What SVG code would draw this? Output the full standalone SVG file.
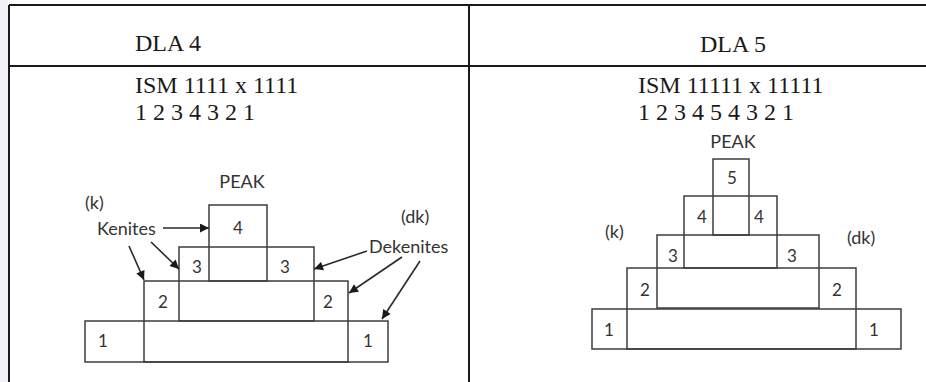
<svg xmlns="http://www.w3.org/2000/svg" width="926" height="382" viewBox="0 0 926 382">
<defs>
<style>
.grid{stroke:#1a1a1a;stroke-width:2;fill:none}
.box{fill:none;stroke:#3c3c3c;stroke-width:1.5}
.ser{font-family:"Liberation Serif","Times New Roman",serif;font-size:24px;fill:#1a1a1a}
.sans{font-family:Lato,"Liberation Sans",sans-serif;font-size:18px;fill:#333}
.num{font-family:Lato,"Liberation Sans",sans-serif;font-size:17px;fill:#333;text-anchor:middle}
.arr{stroke:#2a2a2a;stroke-width:1.6;fill:none;marker-end:url(#ah)}
</style>
<marker id="ah" viewBox="0 0 10 10" refX="10" refY="5" markerWidth="11" markerHeight="9" markerUnits="userSpaceOnUse" orient="auto">
<path d="M0,0 L10,5 L0,10 z" fill="#1a1a1a"/>
</marker>
</defs>
<rect x="0" y="0" width="926" height="382" fill="#ffffff"/>
<rect x="0" y="0" width="8" height="382" fill="#f1f2f5"/>
<g id="table">
<line class="grid" x1="9" y1="5" x2="926" y2="5"/>
<line class="grid" x1="9" y1="66" x2="926" y2="66"/>
<line class="grid" x1="9" y1="5" x2="9" y2="382"/>
<line class="grid" x1="469" y1="5" x2="469" y2="382"/>
<text class="ser" x="135" y="51">DLA 4</text>
<text class="ser" x="700" y="52">DLA 5</text>
<text class="ser" x="135" y="93">ISM 1111 x 1111</text>
<text class="ser" x="135" y="120">1 2 3 4 3 2 1</text>
<text class="ser" x="638" y="93">ISM 11111 x 11111</text>
<text class="ser" x="638" y="120">1 2 3 4 5 4 3 2 1</text>
</g>
<g id="dla4">
<g id="dla4-level1"><rect class="box" x="85" y="321" width="303" height="41"/><text class="num" x="103" y="347">1</text><text class="num" x="368" y="347">1</text></g>
<g id="dla4-level2"><rect class="box" x="144" y="281" width="204" height="81"/><text class="num" x="163" y="308">2</text><text class="num" x="328" y="308">2</text></g>
<g id="dla4-level3"><rect class="box" x="179" y="247" width="135" height="74"/><text class="num" x="197" y="273">3</text><text class="num" x="285" y="273">3</text></g>
<g id="dla4-level4"><rect class="box" x="209" y="205" width="58" height="76"/><text class="num" x="238" y="234">4</text></g>
<g id="dla4-labels">
<text class="sans" x="242" y="188" text-anchor="middle">PEAK</text>
<text class="sans" x="85" y="209">(k)</text>
<text class="sans" x="97" y="235">Kenites</text>
<text class="sans" x="401" y="223">(dk)</text>
<text class="sans" x="369" y="253">Dekenites</text>
</g>
</g>
<g id="dla5">
<g id="dla5-level1"><rect class="box" x="592" y="309" width="309" height="40"/><text class="num" x="609" y="336">1</text><text class="num" x="874" y="336">1</text></g>
<g id="dla5-level2"><rect class="box" x="627" y="268" width="229" height="81"/><text class="num" x="645" y="296">2</text><text class="num" x="837" y="296">2</text></g>
<g id="dla5-level3"><rect class="box" x="657" y="235" width="162" height="73"/><text class="num" x="673" y="262">3</text><text class="num" x="792" y="262">3</text></g>
<g id="dla5-level4"><rect class="box" x="684" y="196" width="93" height="72"/><text class="num" x="702" y="223">4</text><text class="num" x="759" y="223">4</text></g>
<g id="dla5-level5"><rect class="box" x="713" y="159" width="36" height="76"/><text class="num" x="732" y="184">5</text></g>
<g id="dla5-labels">
<text class="sans" x="733" y="148" text-anchor="middle">PEAK</text>
<text class="sans" x="605" y="238">(k)</text>
<text class="sans" x="847" y="244">(dk)</text>
</g>
</g>
<g id="connectors">
<line class="arr" x1="163" y1="228" x2="209" y2="228"/>
<line class="arr" x1="151" y1="242" x2="179" y2="269"/>
<line class="arr" x1="129" y1="246" x2="144" y2="280"/>
<line class="arr" x1="367" y1="251" x2="314" y2="269"/>
<line class="arr" x1="402" y1="257" x2="349" y2="293"/>
<line class="arr" x1="420" y1="261" x2="382" y2="319"/>
</g>
</svg>
